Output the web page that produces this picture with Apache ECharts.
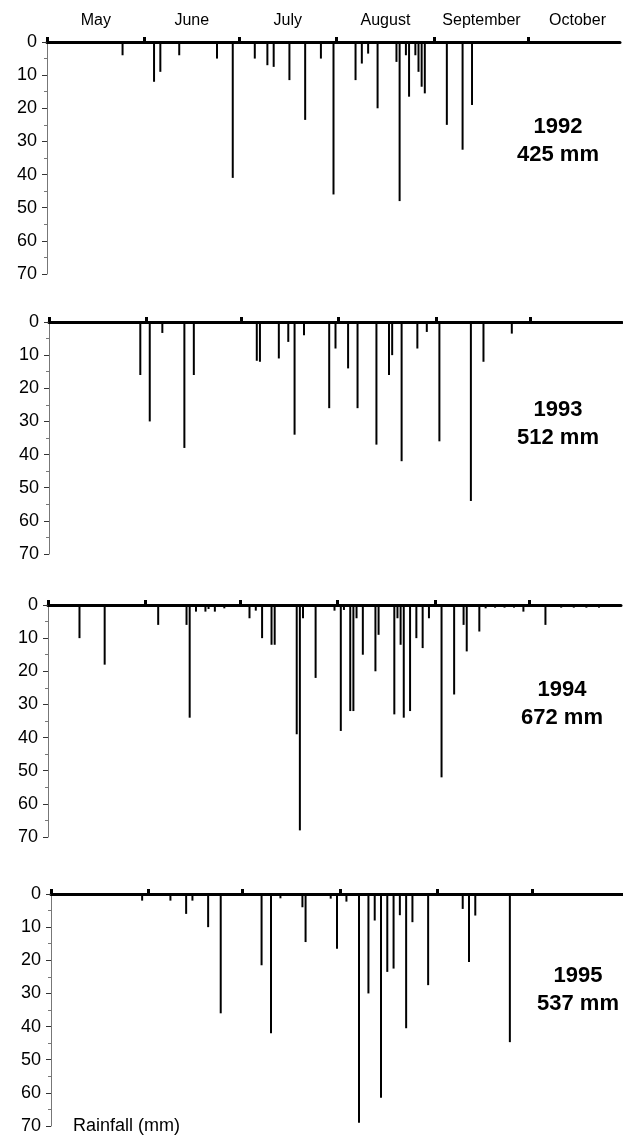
<!DOCTYPE html>
<html>
<head>
<meta charset="utf-8">
<title>Daily rainfall 1992–1995</title>
<script src="https://cdn.jsdelivr.net/npm/echarts@6/dist/echarts.min.js"></script>
<style>
  html, body { margin: 0; padding: 0; background: #fff; }
  #chart { width: 623px; height: 1136px; }
</style>
</head>
<body>
<div id="chart"></div>
<script>
// Season runs from 1 May (day 0) to the end of October.
const monthNames = ['May', 'June', 'July', 'August', 'September', 'October'];
const monthStarts = [0, 31, 61, 92, 123, 153];
const monthLengths = [31, 30, 31, 31, 30, 31];
const rainTicks = [0, 10, 20, 30, 40, 50, 60, 70];

const years = ['1992', '1993', '1994', '1995'];
const totals = [425, 512, 672, 537];

// Daily rainfall (mm); days counted from 1 May.
const days1992 = [24, 34, 36, 42, 54, 59, 66, 70, 72, 77, 82, 87, 91, 98, 100, 102, 105, 111, 112, 114, 115, 117, 118, 119, 120, 127, 132, 135];
const rain1992 = [4, 12, 9, 4, 5, 41, 5, 7, 7.5, 11.5, 23.5, 5, 46, 11.5, 6.5, 3.5, 20, 6, 48, 4, 16.5, 4, 9, 13.5, 15.5, 25, 32.5, 19];

const days1993 = [29, 32, 36, 43, 46, 66, 67, 73, 76, 78, 81, 89, 91, 95, 98, 104, 108, 109, 112, 117, 120, 124, 134, 138, 147];
const rain1993 = [16, 30, 3.3, 38, 16, 11.7, 12, 11, 6, 34, 4, 26, 8, 14, 26, 37, 16, 10, 42, 8, 3, 36, 54, 12, 3.5];

const days1994 = [10, 18, 35, 44, 45, 47, 50, 51, 53, 56, 64, 66, 68, 71, 72, 79, 80, 81, 85, 91, 93, 94, 96, 97, 98, 100, 104, 105, 110, 111, 112, 113, 115, 117, 119, 121, 125, 129, 132, 133, 137, 139, 142, 145, 148, 151, 158, 163, 167, 171, 175];
const rain1994 = [10, 18, 6, 6, 34, 2, 2, 1.2, 2, 1, 4, 1.7, 10, 12, 12, 39, 68, 4, 22, 1.7, 38, 1.5, 32, 32, 4, 15, 20, 9, 33, 4, 12, 34, 32, 10, 13, 4, 52, 27, 6, 14, 8, 1, 0.8, 0.8, 0.8, 2, 6, 0.8, 0.8, 0.8, 0.8];

const days1995 = [29, 38, 43, 45, 50, 54, 67, 70, 73, 80, 81, 89, 91, 94, 98, 101, 103, 105, 107, 109, 111, 113, 115, 120, 131, 133, 135, 146];
const rain1995 = [2, 2, 6, 2, 10, 36, 21.5, 42, 1.3, 4, 14.5, 1.4, 16.5, 2.3, 69, 30, 8, 61.5, 23.5, 22.5, 6.4, 40.5, 8.5, 27.5, 4.5, 20.5, 6.5, 44.7];

const seriesDays = [days1992, days1993, days1994, days1995];
const seriesRain = [rain1992, rain1993, rain1994, rain1995];

// Panel placement (zero line at the top of each grid, 70 mm at the bottom)
const layout = [
  { left: 47, top: 42, label: [558, 141] },
  { left: 49, top: 322, label: [558, 424] },
  { left: 48, top: 605, label: [562, 704] },
  { left: 51, top: 894, label: [578, 990] }
];
const PLOT_W = 573, PLOT_H = 232, DAY_MAX = 182;

const FONT = '"Liberation Sans", Arial, Helvetica, sans-serif';
const monthMids = monthStarts.map((s, i) => s + monthLengths[i] / 2);

function monthOf(v) {
  let idx = 0;
  for (let i = 0; i < monthStarts.length; i++) if (v >= monthStarts[i]) idx = i;
  return monthNames[idx];
}

const grid = [], xAxis = [], yAxis = [], series = [], graphic = [];

layout.forEach((p, i) => {
  grid.push({ left: p.left, top: p.top, width: PLOT_W, height: PLOT_H });

  xAxis.push({
    gridIndex: i, type: 'value', min: 0, max: DAY_MAX, position: 'top',
    axisLine: { show: true, onZero: false, lineStyle: { color: '#000', width: 3 } },
    axisTick: { show: true, customValues: monthStarts, length: 5, inside: false,
                lineStyle: { color: '#000', width: 3 } },
    axisLabel: { show: i === 0, customValues: monthMids, formatter: v => monthOf(v),
                 fontFamily: FONT, fontSize: 16, color: '#000', margin: 13 },
    splitLine: { show: false }
  });

  // labelled rainfall axis with outer ticks
  yAxis.push({
    gridIndex: i, type: 'value', inverse: true, min: 0, max: 70, interval: 10,
    axisLine: { show: true, onZero: false, lineStyle: { color: '#777', width: 1 } },
    axisTick: { show: true, length: 5, lineStyle: { color: '#333', width: 1 } },
    minorTick: { show: true, splitNumber: 2, length: 3, lineStyle: { color: '#777' } },
    axisLabel: { fontFamily: FONT, fontSize: 18, color: '#000', margin: 10,
                 formatter: v => rainTicks.includes(v) ? String(v) : '' },
    splitLine: { show: false },
    name: i === 3 ? 'Rainfall (mm)' : '',
    nameLocation: 'end', nameGap: 0,
    nameTextStyle: { fontFamily: FONT, fontSize: 18, color: '#000', align: 'left',
                     verticalAlign: 'middle', padding: [0, 0, 0, 22] }
  });
  // inner half of the tick crosses
  yAxis.push({
    gridIndex: i, type: 'value', inverse: true, min: 0, max: 70, interval: 10,
    axisLine: { show: false }, axisLabel: { show: false }, splitLine: { show: false },
    axisTick: { show: true, inside: true, length: 3, lineStyle: { color: '#333', width: 1 } }
  });

  series.push({
    type: 'bar', xAxisIndex: i, yAxisIndex: i * 2, barWidth: 2,
    itemStyle: { color: '#000' }, silent: true,
    data: seriesDays[i].map((d, k) => [d, seriesRain[i][k]])
  });

  graphic.push({
    type: 'text', x: p.label[0], y: p.label[1], silent: true,
    style: {
      text: years[i] + '\n' + totals[i] + ' mm',
      fontFamily: FONT, fontWeight: 'bold', fontSize: 22, lineHeight: 28,
      fill: '#000', align: 'center', verticalAlign: 'middle'
    }
  });
});

const chart = echarts.init(document.getElementById('chart'), null, { renderer: 'canvas' });
chart.setOption({
  animation: false,
  backgroundColor: '#fff',
  grid, xAxis, yAxis, series, graphic
});
</script>
</body>
</html>
